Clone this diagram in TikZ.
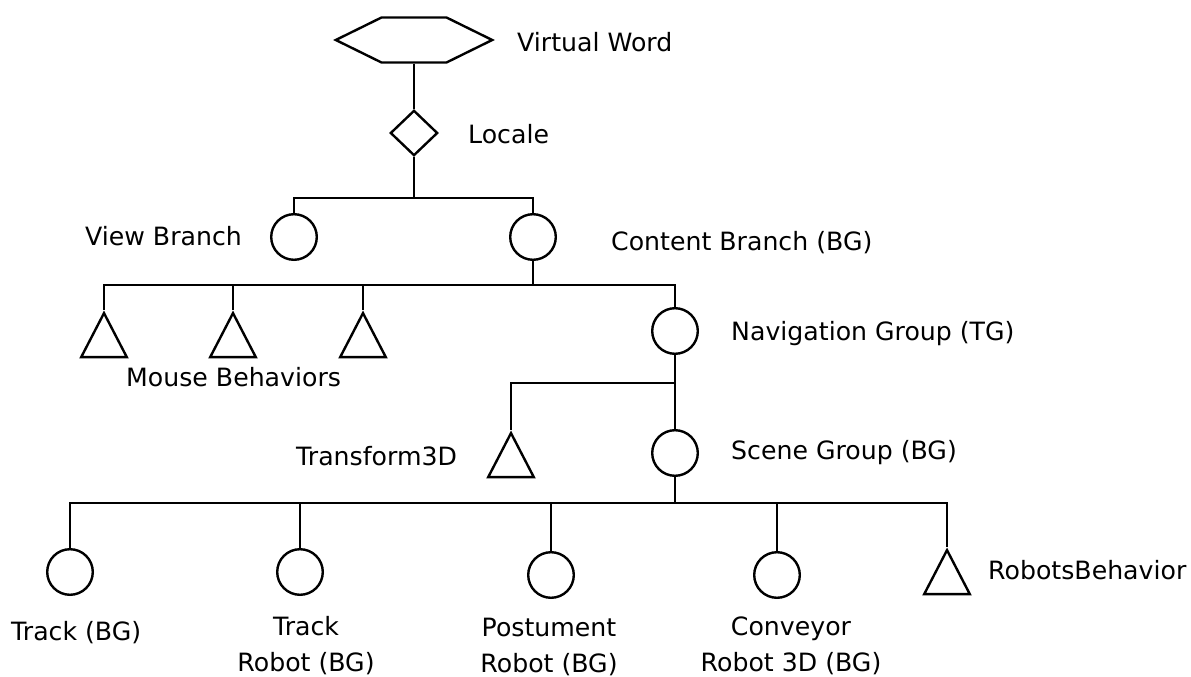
\documentclass[tikz,border=0pt]{standalone}
\usepackage{fontspec}
\setmainfont{DejaVu Sans}
\usetikzlibrary{shapes.geometric}
\begin{document}
\begin{tikzpicture}[x=0.75pt,y=-0.75pt,line width=1.8pt,line join=miter,
  circ/.style={circle,draw,inner sep=0pt,minimum size=34.2pt},
  tri/.style={isosceles triangle,draw,shape border rotate=90,isosceles triangle stretches,inner sep=0pt,minimum width=34.2pt,minimum height=33pt},
  hexbox/.style={inner sep=0pt,minimum width=115.5pt,minimum height=33.75pt},
  dia/.style={diamond,draw,inner sep=0pt,minimum width=35.5pt,minimum height=34pt},
  lbl/.style={anchor=base west,inner sep=0pt,font=\fontsize{18.9}{27.4}\selectfont},
  lbltwo/.style={align=center,inner sep=0pt,font=\fontsize{18.9}{27.4}\selectfont}]
\path[use as bounding box] (0,0) rectangle (1191,677);

% nodes
\node[hexbox] (vw) at (414,40) {};
\draw (vw.west) -- (381.5,17.5) -- (446.5,17.5) -- (vw.east) -- (446.5,62.5) -- (381.5,62.5) -- cycle;
\node[dia] (loc) at (414,133) {};
\node[circ] (vb) at (294,237) {};
\node[circ] (cb) at (533,237) {};
\node[tri,anchor=apex] (mb1) at (104,310) {};
\node[tri,anchor=apex] (mb2) at (233,310) {};
\node[tri,anchor=apex] (mb3) at (363,310) {};
\node[circ] (ng) at (675,331) {};
\node[tri,anchor=apex] (t3d) at (511,430) {};
\node[circ] (sg) at (675,453) {};
\node[circ] (c1) at (70,572) {};
\node[circ] (c2) at (300,572) {};
\node[circ] (c3) at (551,575) {};
\node[circ] (c4) at (777,575) {};
\node[tri,anchor=apex] (rb) at (947,547) {};

% bar junctions
\coordinate (b1) at (414,198);
\coordinate (b2) at (533,285);
\coordinate (b3) at (675,383);
\coordinate (b4) at (675,503);

% connectors
\draw (vw.south) -- (loc.north);
\draw (loc.south) -- (b1);
\draw (vb.north) |- (b1) -| (cb.north);
\draw (cb.south) -- (b2);
\draw (mb1.apex) |- (b2) -| (ng.north);
\draw (mb2.apex) -- (mb2.apex |- b2);
\draw (mb3.apex) -- (mb3.apex |- b2);
\draw (ng.south) -- (sg.north);
\draw (t3d.apex) |- (b3);
\draw (sg.south) -- (b4);
\draw (c1.north) |- (b4) -| (rb.apex);
\draw (c2.north) -- (c2.north |- b4);
\draw (c3.north) -- (c3.north |- b4);
\draw (c4.north) -- (c4.north |- b4);

% labels
\node[lbl] (lvw) at (516,52) {Virtual Word};
\node[lbl] (lloc) at (467,144) {Locale};
\node[lbl] (lvb) at (84,245) {View Branch};
\node[lbl] (lcb) at (610,250) {Content Branch (BG)};
\node[lbl] (lmb) at (125,386) {Mouse Behaviors};
\node[lbl] (lng) at (730,340) {Navigation Group (TG)};
\node[lbl] (lt3d) at (295,465) {Transform3D};
\node[lbl] (lsg) at (730,459) {Scene Group (BG)};
\node[lbl] (lrb) at (987,579) {RobotsBehavior};
\node[lbl] (lc1) at (10,640) {Track (BG)};
\node[lbltwo] (lc2) at (306,645.5) {Track\\Robot (BG)};
\node[lbltwo] (lc3) at (549,647) {Postument\\Robot (BG)};
\node[lbltwo] (lc4) at (791,645.7) {Conveyor\\Robot 3D (BG)};
\end{tikzpicture}
\end{document}
